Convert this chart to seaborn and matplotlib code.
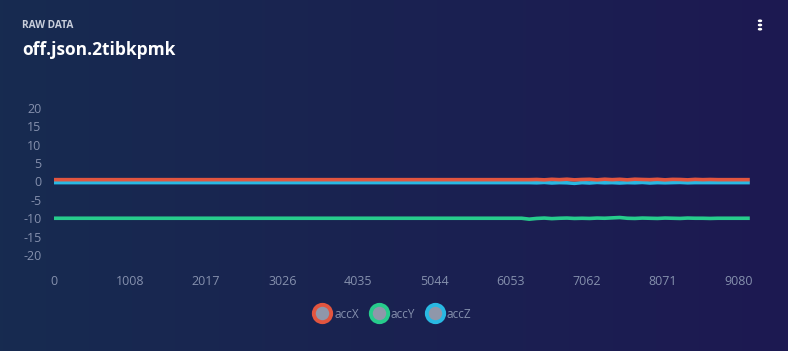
import numpy as np
import pandas as pd
import matplotlib
matplotlib.use("Agg")
import matplotlib.pyplot as plt
from matplotlib.lines import Line2D
import seaborn as sns

sample_step = 100
accX = ([0.5] * 64 +
        [0.55, 0.45, 0.6, 0.5, 0.62, 0.45, 0.55, 0.6, 0.45, 0.62, 0.5, 0.6, 0.45, 0.62,
         0.55, 0.5, 0.6, 0.45, 0.58, 0.55, 0.45, 0.58, 0.5, 0.55] +
        [0.5] * 5)
accY = ([-10.0] * 63 +
        [-10.25, -10.05, -9.95, -10.1, -10.0, -9.95, -10.05, -10.0, -10.05, -9.95,
         -10.0, -9.9, -9.8, -10.0, -10.05, -9.95, -10.0, -10.05, -9.95, -10.0,
         -10.05, -9.95, -10.0, -10.0, -10.05] +
        [-10.0] * 5)
accZ = ([-0.3] * 64 +
        [-0.35, -0.25, -0.4, -0.3, -0.35, -0.5, -0.3, -0.4, -0.25, -0.35, -0.3,
         -0.4, -0.3, -0.35, -0.25, -0.4, -0.3, -0.35, -0.3, -0.25, -0.35, -0.3,
         -0.3, -0.3] +
        [-0.3] * 5)
series_names = ["accX", "accY", "accZ"]
series_colors = ["#e2553f", "#27cc8c", "#29b9e3"]
x_tick_values = [0, 1008, 2017, 3026, 4035, 5044, 6053, 7062, 8071, 9080]
y_tick_values = [-20, -15, -10, -5, 0, 5, 10, 15, 20]
title_small = "RAW DATA"
title_main = "off.json.2tibkpmk"

n = len(accX)
samples = np.arange(n) * sample_step
df = pd.concat([
    pd.DataFrame({"sample": samples, "value": vals, "series": name})
    for name, vals in zip(series_names, [accX, accY, accZ])
])

plt.rcParams['font.family'] = ['Open Sans', 'DejaVu Sans']
W, H = 788, 351
fig = plt.figure(figsize=(W / 100, H / 100), dpi=100)

# gradient background
bg = fig.add_axes([0, 0, 1, 1], zorder=-10)
c1 = np.array([0x17, 0x2b, 0x50]) / 255
c2 = np.array([0x1d, 0x19, 0x52]) / 255
t = np.linspace(0, 1, 256)[None, :, None]
grad = c1[None, None, :] * (1 - t) + c2[None, None, :] * t
bg.imshow(np.repeat(grad, 2, axis=0), aspect='auto', extent=[0, 1, 0, 1])
bg.set_axis_off()

ax = fig.add_axes([54 / W, 1 - 269.7 / H, (751 - 54) / W, (269.7 - 93.3) / H])
ax.patch.set_alpha(0)
sns.lineplot(data=df, x="sample", y="value", hue="series",
             palette=dict(zip(series_names, series_colors)),
             linewidth=2.6, ax=ax, legend=False)
for line, z in zip(ax.get_lines(), [3, 2, 2.5]):
    line.set_zorder(z)

ax.set_xlim(0, 9240)
ax.set_ylim(-24, 24)
ax.set_xticks(x_tick_values)
ax.set_xticklabels([str(v) for v in x_tick_values])
ax.set_yticks(y_tick_values)
ax.set_yticklabels([str(v) for v in y_tick_values])
ax.tick_params(axis='both', length=0, labelcolor="#8590ad", labelsize=9)
ax.tick_params(axis='x', pad=4)
ax.tick_params(axis='y', pad=9)
ax.set_xlabel("")
ax.set_ylabel("")
for s in ax.spines.values():
    s.set_visible(False)
ax.grid(False)

# titles
fig.text(22 / W, 1 - 25 / H, title_small, color="#c8cedb", fontsize=7.3,
         fontweight='bold', va='center', ha='left')
fig.text(22 / W, 1 - 50 / H, title_main, color="white", fontsize=12.5,
         fontweight='bold', va='center', ha='left')
# kebab icon
for dy in (-4.2, 0, 4.2):
    fig.patches.append(matplotlib.patches.Circle((760 / W, (1 - 25 / H) + dy / H), 1.5 / W,
                                                 transform=fig.transFigure, color="white"))

# legend
handles = [Line2D([0], [0], marker='o', linestyle='none', markersize=12.5,
                  markerfacecolor="#8f97aa", markeredgecolor=c, markeredgewidth=2.8)
           for c in series_colors]
leg = fig.legend(handles, series_names, loc='center', bbox_to_anchor=(0.5, 1 - 314 / H),
                 ncol=3, frameon=False, handletextpad=0.5, columnspacing=1.2,
                 fontsize=8.5, labelcolor="#8590ad", handlelength=1.0)

fig.savefig("out.png", dpi=100)
